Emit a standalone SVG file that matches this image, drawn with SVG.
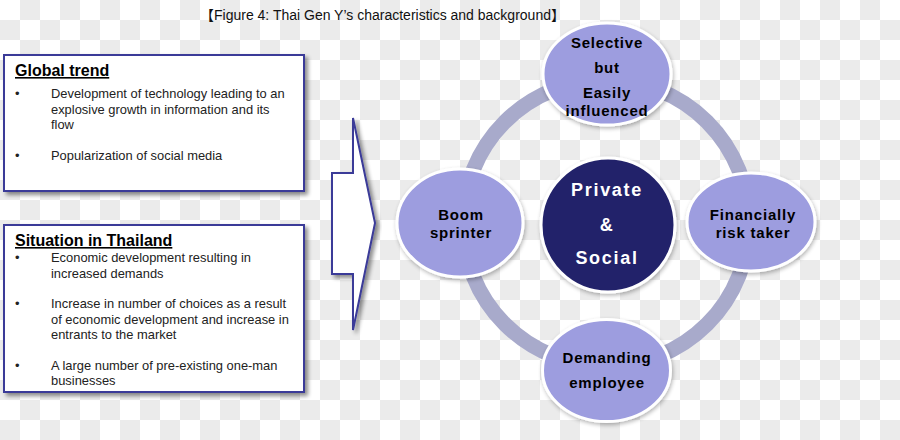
<svg xmlns="http://www.w3.org/2000/svg" width="900" height="440" viewBox="0 0 900 440">
<defs>
<pattern id="chk" width="40" height="40" patternUnits="userSpaceOnUse">
<rect width="40" height="40" fill="#ffffff"/>
<rect x="20" y="0" width="20" height="20" fill="#ebebeb"/>
<rect x="0" y="20" width="20" height="20" fill="#ebebeb"/>
</pattern>
<filter id="sh" x="-10%" y="-10%" width="125%" height="125%">
<feGaussianBlur in="SourceAlpha" stdDeviation="2"/>
<feOffset dx="3" dy="3" result="b"/>
<feComponentTransfer><feFuncA type="linear" slope="0.45"/></feComponentTransfer>
<feMerge><feMergeNode/><feMergeNode in="SourceGraphic"/></feMerge>
</filter>
<filter id="sh2" x="-10%" y="-10%" width="125%" height="125%">
<feGaussianBlur in="SourceAlpha" stdDeviation="2"/>
<feOffset dx="1" dy="2" result="b"/>
<feComponentTransfer><feFuncA type="linear" slope="0.3"/></feComponentTransfer>
<feMerge><feMergeNode/><feMergeNode in="SourceGraphic"/></feMerge>
</filter>
</defs>
<style>
.box{fill:#ffffff;stroke:#3a3a98;stroke-width:2}
.hd{font-family:"Liberation Sans",Arial,sans-serif;font-weight:bold;font-size:16px;fill:#000;text-decoration:underline}
.tx{font-family:"Liberation Sans",Arial,sans-serif;font-size:12.9px;fill:#222}
.node{fill:#9d9ddf;stroke:#ffffff;stroke-width:3}
.core{fill:#23236b;stroke:#ffffff;stroke-width:3}
.nt{font-family:"Liberation Sans",Arial,sans-serif;font-weight:bold;font-size:15px;letter-spacing:0.8px;fill:#000;text-anchor:middle}
.ct{font-family:"Liberation Sans",Arial,sans-serif;font-weight:bold;font-size:18px;letter-spacing:1.7px;fill:#fff;text-anchor:middle}
.ttl{font-family:"Liberation Sans","Noto Sans CJK JP",Arial,sans-serif;font-size:14px;fill:#111}
</style>
<rect width="900" height="440" fill="url(#chk)"/>
<text class="ttl" x="200" y="20">【Figure 4: Thai Gen Y’s characteristics and background】</text>

<g id="global-trend">
<rect class="box" x="4" y="55" width="300" height="136" filter="url(#sh)"/>
<text class="hd" x="15" y="76">Global trend</text>
<text class="tx" x="15" y="98">•</text>
<text class="tx" x="51" y="98">Development of technology leading to an</text>
<text class="tx" x="51" y="113.5">explosive growth in information and its</text>
<text class="tx" x="51" y="129">flow</text>
<text class="tx" x="15" y="160">•</text>
<text class="tx" x="51" y="160">Popularization of social media</text>
</g>

<g id="situation-thailand">
<rect class="box" x="4" y="225" width="300" height="167" filter="url(#sh)"/>
<text class="hd" x="15" y="246">Situation in Thailand</text>
<text class="tx" x="15" y="262">•</text>
<text class="tx" x="51" y="262">Economic development resulting in</text>
<text class="tx" x="51" y="277.5">increased demands</text>
<text class="tx" x="15" y="308">•</text>
<text class="tx" x="51" y="308">Increase in number of choices as a result</text>
<text class="tx" x="51" y="323.5">of economic development and increase in</text>
<text class="tx" x="51" y="339">entrants to the market</text>
<text class="tx" x="15" y="369.5">•</text>
<text class="tx" x="51" y="369.5">A large number of pre-existing one-man</text>
<text class="tx" x="51" y="385">businesses</text>
</g>

<g id="arrow">
<polygon class="box" points="332,173 353,173 353,118 375,223 353,330 353,274 332,274" filter="url(#sh)"/>
</g>

<g id="connectors">
<circle cx="606" cy="223" r="143" fill="none" stroke="#a8aacb" stroke-width="15"/>
</g>

<g id="selective">
<ellipse class="node" cx="607" cy="74" rx="64" ry="51" filter="url(#sh2)"/>
<text class="nt" x="607" y="48">Selective</text>
<text class="nt" x="607" y="73">but</text>
<text class="nt" x="607" y="98">Easily</text>
<text class="nt" x="607" y="115.5">influenced</text>
</g>

<g id="boom-sprinter">
<ellipse class="node" cx="460" cy="223" rx="63" ry="54" filter="url(#sh2)"/>
<text class="nt" x="461" y="219.5">Boom</text>
<text class="nt" x="461" y="237.5">sprinter</text>
</g>

<g id="financially">
<ellipse class="node" cx="751" cy="222" rx="64" ry="49" filter="url(#sh2)"/>
<text class="nt" x="753" y="219.5">Financially</text>
<text class="nt" x="753" y="237.5">risk taker</text>
</g>

<g id="demanding">
<ellipse class="node" cx="606.5" cy="370.5" rx="64" ry="51" filter="url(#sh2)"/>
<text class="nt" x="607" y="363">Demanding</text>
<text class="nt" x="607" y="388">employee</text>
</g>

<g id="private-social">
<circle class="core" cx="608" cy="225" r="67" filter="url(#sh2)"/>
<text class="ct" x="607" y="196">Private</text>
<text class="ct" x="607" y="231">&amp;</text>
<text class="ct" x="607" y="264">Social</text>
</g>
</svg>
